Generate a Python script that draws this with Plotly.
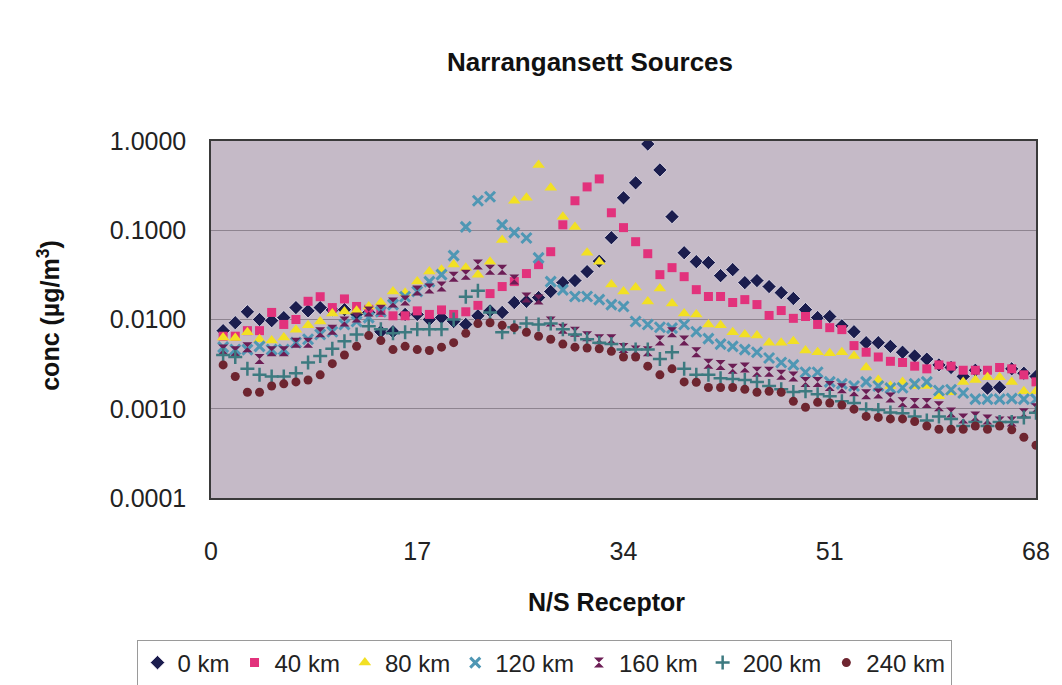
import plotly.graph_objects as go

# N/S receptor index along the transect
receptor = list(range(1, 69))

# Concentration (ug/m3) at each receptor, one list per source distance
km0 = [0.0075, 0.0092, 0.0122, 0.0100, 0.0097, 0.0105, 0.0136, 0.0125, 0.0136, 0.0128,
       0.0129, 0.0115, 0.0120, 0.0073, 0.0073, 0.0114, 0.0114, 0.0100, 0.0105, 0.0095,
       0.0088, 0.0110, 0.0125, 0.0120, 0.0155, 0.0160, 0.0176, 0.0206, 0.0259, 0.0273,
       0.0344, 0.0450, 0.0825, 0.2310, 0.3400, 0.9250, 0.4740, 0.1420, 0.0560, 0.0445,
       0.0434, 0.0310, 0.0362, 0.0259, 0.0273, 0.0234, 0.0200, 0.0172, 0.0129, 0.0105,
       0.0108, 0.0085, 0.0073, 0.0055, 0.0055, 0.0050, 0.0043, 0.0039, 0.0036, 0.0031,
       0.0029, 0.0023, 0.0027, 0.0017, 0.00174, 0.0028, 0.0025, 0.0023]

km40 = [0.0065, 0.0065, 0.0075, 0.0075, 0.0120, 0.0088, 0.0100, 0.0160, 0.0180, 0.0136,
        0.0170, 0.0140, 0.0130, 0.0120, 0.0110, 0.0110, 0.0125, 0.0114, 0.0128, 0.0114,
        0.0122, 0.0144, 0.0195, 0.0234, 0.0266, 0.0327, 0.0412, 0.0575, 0.1150, 0.2140,
        0.3060, 0.3760, 0.1570, 0.1070, 0.0744, 0.0546, 0.0318, 0.0381, 0.0302, 0.0216,
        0.0181, 0.0181, 0.0155, 0.0167, 0.0147, 0.0111, 0.0126, 0.0103, 0.0108, 0.0088,
        0.0081, 0.0077, 0.0051, 0.0043, 0.0038, 0.0034, 0.0033, 0.0030, 0.0028, 0.0031,
        0.0030, 0.0027, 0.0027, 0.0027, 0.0029, 0.0028, 0.0024, 0.0020]

km80 = [0.0063, 0.0062, 0.0072, 0.0060, 0.0058, 0.0063, 0.0077, 0.0086, 0.0095, 0.0117,
        0.0123, 0.0125, 0.0140, 0.0155, 0.0206, 0.0200, 0.0266, 0.0344, 0.0362, 0.0412,
        0.0381, 0.0318, 0.0445, 0.0780, 0.2140, 0.2310, 0.5400, 0.3000, 0.1420, 0.1090,
        0.0560, 0.0445, 0.0246, 0.0206, 0.0228, 0.0159, 0.0222, 0.0151, 0.0117, 0.0114,
        0.0088, 0.0086, 0.0072, 0.0068, 0.0066, 0.0055, 0.0055, 0.0057, 0.0045, 0.0043,
        0.0042, 0.0043, 0.0039, 0.0029, 0.0021, 0.0018, 0.0020, 0.0018, 0.0018, 0.00138,
        0.00153, 0.0020, 0.0021, 0.00225, 0.00225, 0.0020, 0.00157, 0.00157]

km120 = [0.0049, 0.0046, 0.0046, 0.0050, 0.0046, 0.0046, 0.0055, 0.0060, 0.0068, 0.0073,
         0.0088, 0.0095, 0.0105, 0.0122, 0.0147, 0.0180, 0.0206, 0.0266, 0.0318, 0.0520,
         0.1090, 0.2140, 0.2370, 0.1150, 0.0940, 0.0820, 0.0490, 0.0266, 0.0215, 0.0181,
         0.0181, 0.0167, 0.0147, 0.0140, 0.0095, 0.0088, 0.0082, 0.0080, 0.0088, 0.0073,
         0.0061, 0.0053, 0.0050, 0.0046, 0.0043, 0.0037, 0.0033, 0.0031, 0.00256, 0.00256,
         0.0020, 0.0019, 0.0018, 0.0020, 0.0018, 0.0017, 0.00172, 0.0019, 0.0020, 0.0016,
         0.00163, 0.0015, 0.00128, 0.00128, 0.00128, 0.0013, 0.00128, 0.00128]

km160 = [0.0046, 0.0044, 0.0049, 0.0036, 0.0044, 0.0044, 0.0055, 0.0055, 0.0072, 0.0077,
         0.0095, 0.0105, 0.0123, 0.0129, 0.0155, 0.0163, 0.0211, 0.0222, 0.0234, 0.0302,
         0.0318, 0.0412, 0.0362, 0.0362, 0.0280, 0.0176, 0.0167, 0.0095, 0.0079, 0.0073,
         0.0065, 0.0060, 0.0060, 0.0048, 0.0045, 0.0044, 0.0058, 0.0072, 0.0058, 0.0043,
         0.0032, 0.0031, 0.0028, 0.0029, 0.0026, 0.0026, 0.0024, 0.0023, 0.0020, 0.0020,
         0.0018, 0.0017, 0.00157, 0.00145, 0.00148, 0.00134, 0.00118, 0.00116, 0.00116, 0.00107,
         0.00091, 0.00078, 0.00082, 0.00076, 0.00072, 0.00072, 0.00089, 0.00101]

km200 = [0.0040, 0.0038, 0.0028, 0.0024, 0.0023, 0.0023, 0.0025, 0.0033, 0.0039, 0.0047,
         0.0057, 0.0068, 0.0084, 0.0078, 0.0070, 0.0072, 0.0078, 0.0078, 0.0078, 0.0100,
         0.0180, 0.0210, 0.0120, 0.0072, 0.0082, 0.0090, 0.0088, 0.0090, 0.0078, 0.0068,
         0.0060, 0.0055, 0.0053, 0.0046, 0.0046, 0.0046, 0.0036, 0.0043, 0.0028, 0.0024,
         0.0024, 0.0022, 0.00215, 0.0021, 0.0020, 0.0018, 0.00165, 0.00154, 0.00157, 0.00145,
         0.00138, 0.00121, 0.00116, 0.00099, 0.00097, 0.00091, 0.00089, 0.00082, 0.00074, 0.00082,
         0.00077, 0.00064, 0.00071, 0.00064, 0.00071, 0.00071, 0.0008, 0.0009]

km240 = [0.0031, 0.0023, 0.00153, 0.00153, 0.0018, 0.0019, 0.0020, 0.0021, 0.0024, 0.0032,
         0.0040, 0.0050, 0.0066, 0.0058, 0.0046, 0.0050, 0.0046, 0.0045, 0.0049, 0.0055,
         0.0070, 0.0090, 0.0092, 0.0086, 0.0081, 0.0072, 0.0065, 0.0060, 0.0053, 0.0049,
         0.0048, 0.0047, 0.0044, 0.0038, 0.0038, 0.0030, 0.0024, 0.0028, 0.0020, 0.00198,
         0.00173, 0.00173, 0.00173, 0.00165, 0.00153, 0.00157, 0.00153, 0.00121, 0.00104, 0.00118,
         0.00116, 0.0011, 0.00099, 0.00082, 0.0008, 0.00077, 0.00077, 0.00072, 0.00064, 0.00059,
         0.00059, 0.00059, 0.00064, 0.00059, 0.00064, 0.00058, 0.00048, 0.00039]

series_names = ["0 km", "40 km", "80 km", "120 km", "160 km", "200 km", "240 km"]
x_ticks = [0, 17, 34, 51, 68]
y_ticks = [0.0001, 0.001, 0.01, 0.1, 1.0]
y_tick_labels = ["0.0001", "0.0010", "0.0100", "0.1000", "1.0000"]

styles = [
    dict(symbol="diamond", size=11, color="#1b1d4e", line=dict(width=1, color="rgba(235,230,240,0.8)")),
    dict(symbol="square", size=9, color="#e2327c", line=dict(width=0)),
    dict(symbol="triangle-up", size=11, color="#f2e024", line=dict(width=0)),
    dict(symbol="x-thin-open", size=10, color="#4f97b4", line=dict(width=3, color="#4f97b4")),
    dict(symbol="hourglass", size=10, color="#6c1d55", line=dict(width=0)),
    dict(symbol="cross-thin-open", size=10, color="#3d7a80", line=dict(width=2.5, color="#3d7a80")),
    dict(symbol="circle", size=9, color="#6e2530", line=dict(width=0)),
]

font = "Liberation Sans, Arial, sans-serif"

fig = go.Figure()
for name, ys, st in zip(series_names, [km0, km40, km80, km120, km160, km200, km240], styles):
    fig.add_trace(go.Scatter(x=receptor, y=ys, mode="markers", name=name, marker=st))

fig.update_layout(
    width=1062, height=685,
    margin=dict(l=211, r=22, t=141, b=187),
    paper_bgcolor="white",
    plot_bgcolor="#c5bac7",
    title=dict(text="<b>Narrangansett Sources</b>", x=590 / 1062, xanchor="center",
               y=1 - 62 / 685, yanchor="middle", font=dict(family=font, size=26, color="#111")),
    font=dict(family=font, size=25, color="#222"),
    showlegend=True,
    legend=dict(orientation="h", xref="container", yref="container",
                x=544 / 1062, xanchor="center", y=1 - 663 / 685, yanchor="middle",
                font=dict(family=font, size=24, color="#222"),
                bgcolor="white", bordercolor="#9a9a9a", borderwidth=1,
                itemsizing="trace"),
)

fig.update_xaxes(range=[0, 68], tickvals=x_ticks, ticks="", showgrid=False, zeroline=False,
                 showline=True, linecolor="#3a3a3a", linewidth=1.5, mirror=True,
                 ticklabelstandoff=30, tickfont=dict(size=25, color="#222"))
fig.update_yaxes(type="log", range=[-4, 0], tickvals=y_ticks, ticktext=y_tick_labels, ticks="",
                 showgrid=True, gridcolor="#8e8490", gridwidth=1, zeroline=False,
                 showline=True, linecolor="#3a3a3a", linewidth=1.5, mirror=True,
                 ticklabelstandoff=18, tickfont=dict(size=25, color="#222"))

fig.add_annotation(text="<b>N/S Receptor</b>", xref="paper", yref="paper",
                   x=(608 - 211) / 829, y=-(602 - 498) / 357, xanchor="center", yanchor="middle",
                   showarrow=False, font=dict(family=font, size=25, color="#111"))
fig.add_annotation(text="<b>conc (µg/m<sup>3</sup>)</b>", xref="paper", yref="paper",
                   x=-(211 - 48) / 829, y=(498 - 315) / 357, xanchor="center", yanchor="middle",
                   textangle=-90, showarrow=False, font=dict(family=font, size=25, color="#111"))

fig.write_html("out.html")
